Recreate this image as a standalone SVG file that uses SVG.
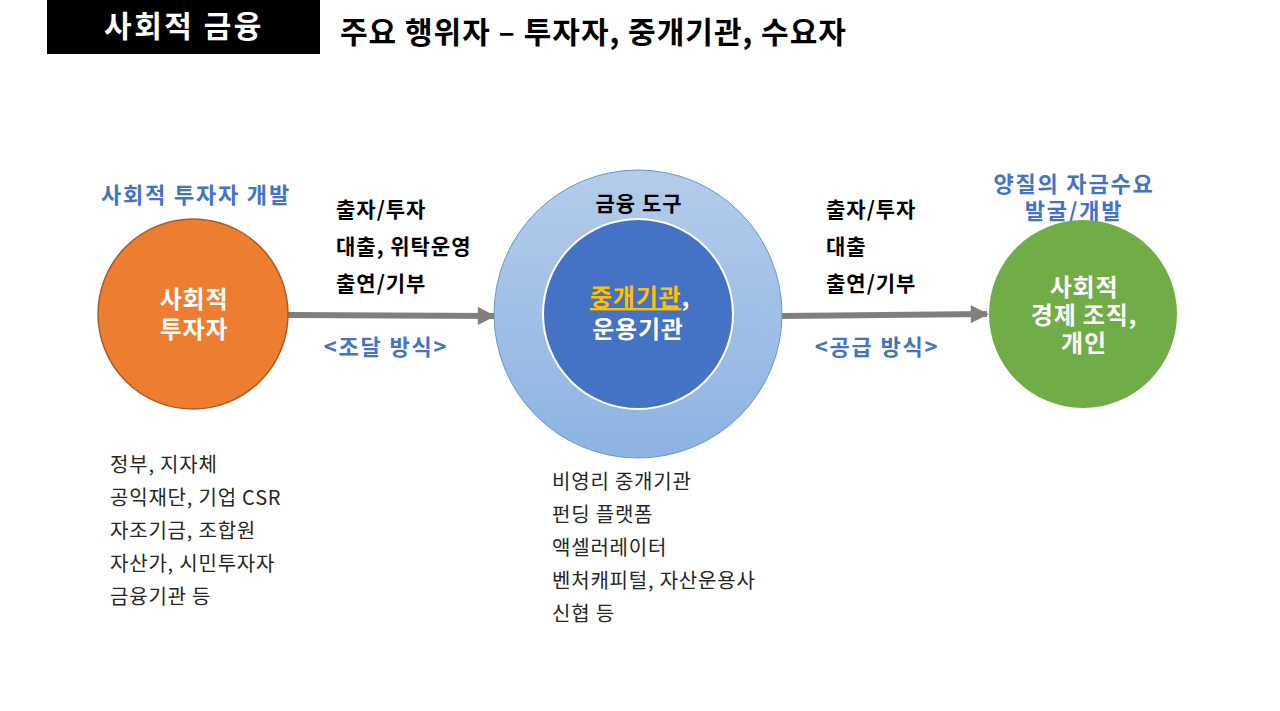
<svg xmlns="http://www.w3.org/2000/svg" width="1280" height="711" viewBox="0 0 1280 711">
<defs>
<linearGradient id="gOuter" x1="0" y1="0" x2="0" y2="1">
<stop offset="0" stop-color="#B4CCEA"/>
<stop offset="1" stop-color="#8DB3E2"/>
</linearGradient>
<marker id="arr" viewBox="0 0 10 10" refX="9" refY="5" markerWidth="3.3" markerHeight="3" orient="auto" markerUnits="strokeWidth">
<path d="M0,0 L10,5 L0,10 z" fill="#7F7F7F"/>
</marker>
</defs>
<style>
text{font-family:"Noto Sans CJK KR","Noto Sans",sans-serif;}
.b{font-weight:bold;}
.blue{fill:#4472C4;font-weight:bold;font-size:22px;letter-spacing:1.8px;}
.lab{fill:#000;font-weight:bold;font-size:21px;letter-spacing:1px;}
.list{fill:#262626;font-size:20px;letter-spacing:0.8px;}
.w{fill:#FFFFFF;font-weight:bold;font-size:24px;letter-spacing:0.8px;}
.conn{stroke:#7F7F7F;stroke-width:6;fill:none;}
</style>
<rect width="1280" height="711" fill="#FFFFFF"/>
<g id="header">
<rect x="47" y="0" width="273" height="54" fill="#000000"/>
<text x="184" y="37" text-anchor="middle" class="b" font-size="30" letter-spacing="2.5" fill="#FFFFFF">사회적 금융</text>
<text x="340" y="43" class="b" font-size="30" letter-spacing="1" fill="#000000">주요 행위자 – 투자자, 중개기관, 수요자</text>
</g>
<g id="connectors">
<line x1="288" y1="315" x2="494" y2="316" class="conn" marker-end="url(#arr)"/>
<line x1="782" y1="316" x2="987" y2="314" class="conn" marker-end="url(#arr)"/>
</g>
<g id="investor">
<text x="196" y="203" text-anchor="middle" class="blue">사회적 투자자 개발</text>
<circle cx="193" cy="314" r="95" fill="#ED7D31" stroke="#AE5A21" stroke-width="1.5"/>
<text x="194" y="308" text-anchor="middle" class="w">사회적</text>
<text x="194" y="338" text-anchor="middle" class="w">투자자</text>
<text x="110" y="472" class="list">정부, 지자체</text>
<text x="110" y="505" class="list">공익재단, 기업 CSR</text>
<text x="110" y="538" class="list">자조기금, 조합원</text>
<text x="110" y="571" class="list">자산가, 시민투자자</text>
<text x="110" y="604" class="list">금융기관 등</text>
</g>
<g id="sourcing-labels">
<text x="336" y="217" class="lab">출자/투자</text>
<text x="336" y="254" class="lab">대출, 위탁운영</text>
<text x="336" y="291" class="lab">출연/기부</text>
<text x="386" y="355" text-anchor="middle" class="blue">&lt;조달 방식&gt;</text>
</g>
<g id="intermediary">
<circle cx="638" cy="314" r="144" fill="url(#gOuter)" stroke="#5B9BD5" stroke-width="1"/>
<text x="639" y="211" text-anchor="middle" class="lab">금융 도구</text>
<circle cx="638" cy="314" r="95" fill="#4472C4" stroke="#FFFFFF" stroke-width="2"/>
<text x="640" y="306" text-anchor="middle" class="w"><tspan fill="#FFC000" text-decoration="underline">중개기관</tspan>,</text>
<text x="638" y="338" text-anchor="middle" class="w">운용기관</text>
<text x="552" y="489" class="list">비영리 중개기관</text>
<text x="552" y="522" class="list">펀딩 플랫폼</text>
<text x="552" y="555" class="list">액셀러레이터</text>
<text x="552" y="588" class="list">벤처캐피털, 자산운용사</text>
<text x="552" y="621" class="list">신협 등</text>
</g>
<g id="supply-labels">
<text x="826" y="217" class="lab">출자/투자</text>
<text x="826" y="254" class="lab">대출</text>
<text x="826" y="291" class="lab">출연/기부</text>
<text x="877" y="355" text-anchor="middle" class="blue">&lt;공급 방식&gt;</text>
</g>
<g id="demand">
<text x="1074" y="192" text-anchor="middle" class="blue">양질의 자금수요</text>
<text x="1074" y="219" text-anchor="middle" class="blue">발굴/개발</text>
<circle cx="1083" cy="314" r="94" fill="#70AD47"/>
<text x="1084" y="296" text-anchor="middle" class="w">사회적</text>
<text x="1084" y="324" text-anchor="middle" class="w">경제 조직,</text>
<text x="1084" y="352" text-anchor="middle" class="w">개인</text>
</g>
</svg>
